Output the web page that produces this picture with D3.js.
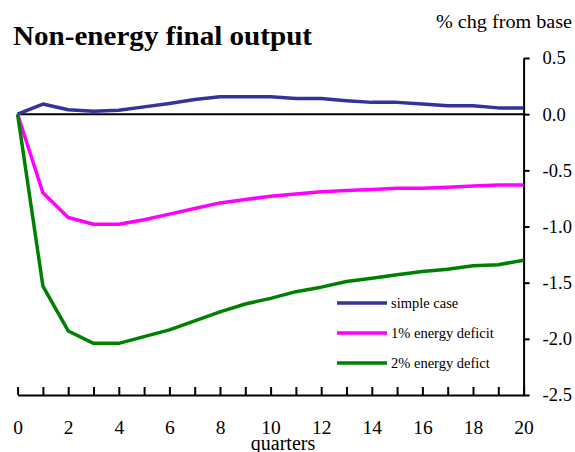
<!DOCTYPE html>
<html>
<head>
<meta charset="utf-8">
<script src="https://cdn.jsdelivr.net/npm/d3@7"></script>
<style>
  body { margin: 0; background: #fff; }
  svg { display: block; }
  svg text { font-family: "Liberation Serif", "Times New Roman", Times, serif; fill: #000; }
</style>
</head>
<body>
<svg id="chart" width="575" height="452"></svg>
<script>
// Data
const quarters = d3.range(0, 21);
const simpleCase = [0, 0.09, 0.04, 0.025, 0.035, 0.065, 0.095, 0.13, 0.155, 0.155, 0.155,
                    0.14, 0.14, 0.12, 0.105, 0.105, 0.09, 0.075, 0.075, 0.056, 0.056];
const deficit1 = [0, -0.70, -0.92, -0.98, -0.98, -0.94, -0.89, -0.84, -0.79, -0.76, -0.73,
                  -0.71, -0.69, -0.68, -0.67, -0.66, -0.66, -0.65, -0.64, -0.63, -0.63];
const deficit2 = [0, -1.53, -1.93, -2.04, -2.04, -1.98, -1.92, -1.84, -1.76, -1.69, -1.64,
                  -1.58, -1.54, -1.49, -1.46, -1.43, -1.40, -1.38, -1.35, -1.34, -1.30];
const seriesNames = ["simple case", "1% energy deficit", "2% energy defict"];
const seriesColors = ["#333399", "#ff00ff", "#008000"];
const yTicks = [0.5, 0, -0.5, -1, -1.5, -2, -2.5];
const xLabelTicks = [0, 2, 4, 6, 8, 10, 12, 14, 16, 18, 20];

const series = [simpleCase, deficit1, deficit2];

// Setup
const svg = d3.select("#chart");
const x = d3.scaleLinear().domain([0, 20]).range([17.6, 523.6]);
const y = d3.scaleLinear().domain([-2.5, 0.5]).range([395, 58]);

// Titles
svg.append("text")
    .attr("x", 13).attr("y", 45)
    .attr("font-size", 28).attr("font-weight", "bold")
    .attr("textLength", 299).attr("lengthAdjust", "spacingAndGlyphs")
    .text("Non-energy final output");

svg.append("text")
    .attr("x", 436).attr("y", 28)
    .attr("font-size", 18)
    .attr("textLength", 136).attr("lengthAdjust", "spacingAndGlyphs")
    .text("% chg from base");

// Zero line
svg.append("line")
    .attr("x1", x(0)).attr("x2", x(20))
    .attr("y1", y(0)).attr("y2", y(0))
    .attr("stroke", "#000").attr("stroke-width", 2);

// Right axis
const yAxis = svg.append("g")
    .attr("transform", `translate(${x(20)},0)`)
    .call(d3.axisRight(y).tickValues(yTicks).tickSize(6).tickSizeOuter(0)
        .tickPadding(13).tickFormat(d => d.toFixed(1)));

// Bottom axis: ticks every quarter, labels every 2
const xAxis = svg.append("g")
    .attr("transform", `translate(0,${y(-2.5)})`)
    .call(d3.axisBottom(x).tickValues(quarters).tickSizeInner(-8).tickSizeOuter(0)
        .tickFormat(""));

const xLabels = svg.append("g")
    .attr("transform", `translate(0,${y(-2.5)})`)
    .call(d3.axisBottom(x).tickValues(xLabelTicks).tickSize(0).tickPadding(25)
        .tickFormat(d3.format("d")));
xLabels.select(".domain").remove();

[yAxis, xAxis, xLabels].forEach(g => {
    g.attr("font-family", null);
    g.selectAll("path, line").attr("stroke", "#000").attr("stroke-width", 2);
    g.selectAll("text").attr("fill", "#000");
});
yAxis.selectAll("text").attr("text-anchor", "start").attr("font-size", 18.5);
xLabels.selectAll("text").attr("font-size", 19.5);

svg.append("text")
    .attr("x", 283).attr("y", 450)
    .attr("text-anchor", "middle")
    .attr("font-size", 20)
    .text("quarters");

// Lines
const line = d3.line()
    .x((d, i) => x(quarters[i]))
    .y(d => y(d));

svg.selectAll(".series")
    .data(series)
    .enter().append("path")
    .attr("class", "series")
    .attr("d", line)
    .attr("fill", "none")
    .attr("stroke", (d, i) => seriesColors[i])
    .attr("stroke-width", 3.5)
    .attr("stroke-linejoin", "round");

// Legend
const legend = svg.append("g").attr("transform", "translate(337,303)");
const items = legend.selectAll("g")
    .data(seriesNames)
    .enter().append("g")
    .attr("transform", (d, i) => `translate(0,${i * 30})`);

items.append("line")
    .attr("x1", 0).attr("x2", 50)
    .attr("stroke", (d, i) => seriesColors[i])
    .attr("stroke-width", 3.5);

items.append("text")
    .attr("x", 54).attr("y", 5)
    .attr("font-size", 14.5)
    .text(d => d);
</script>
</body>
</html>
